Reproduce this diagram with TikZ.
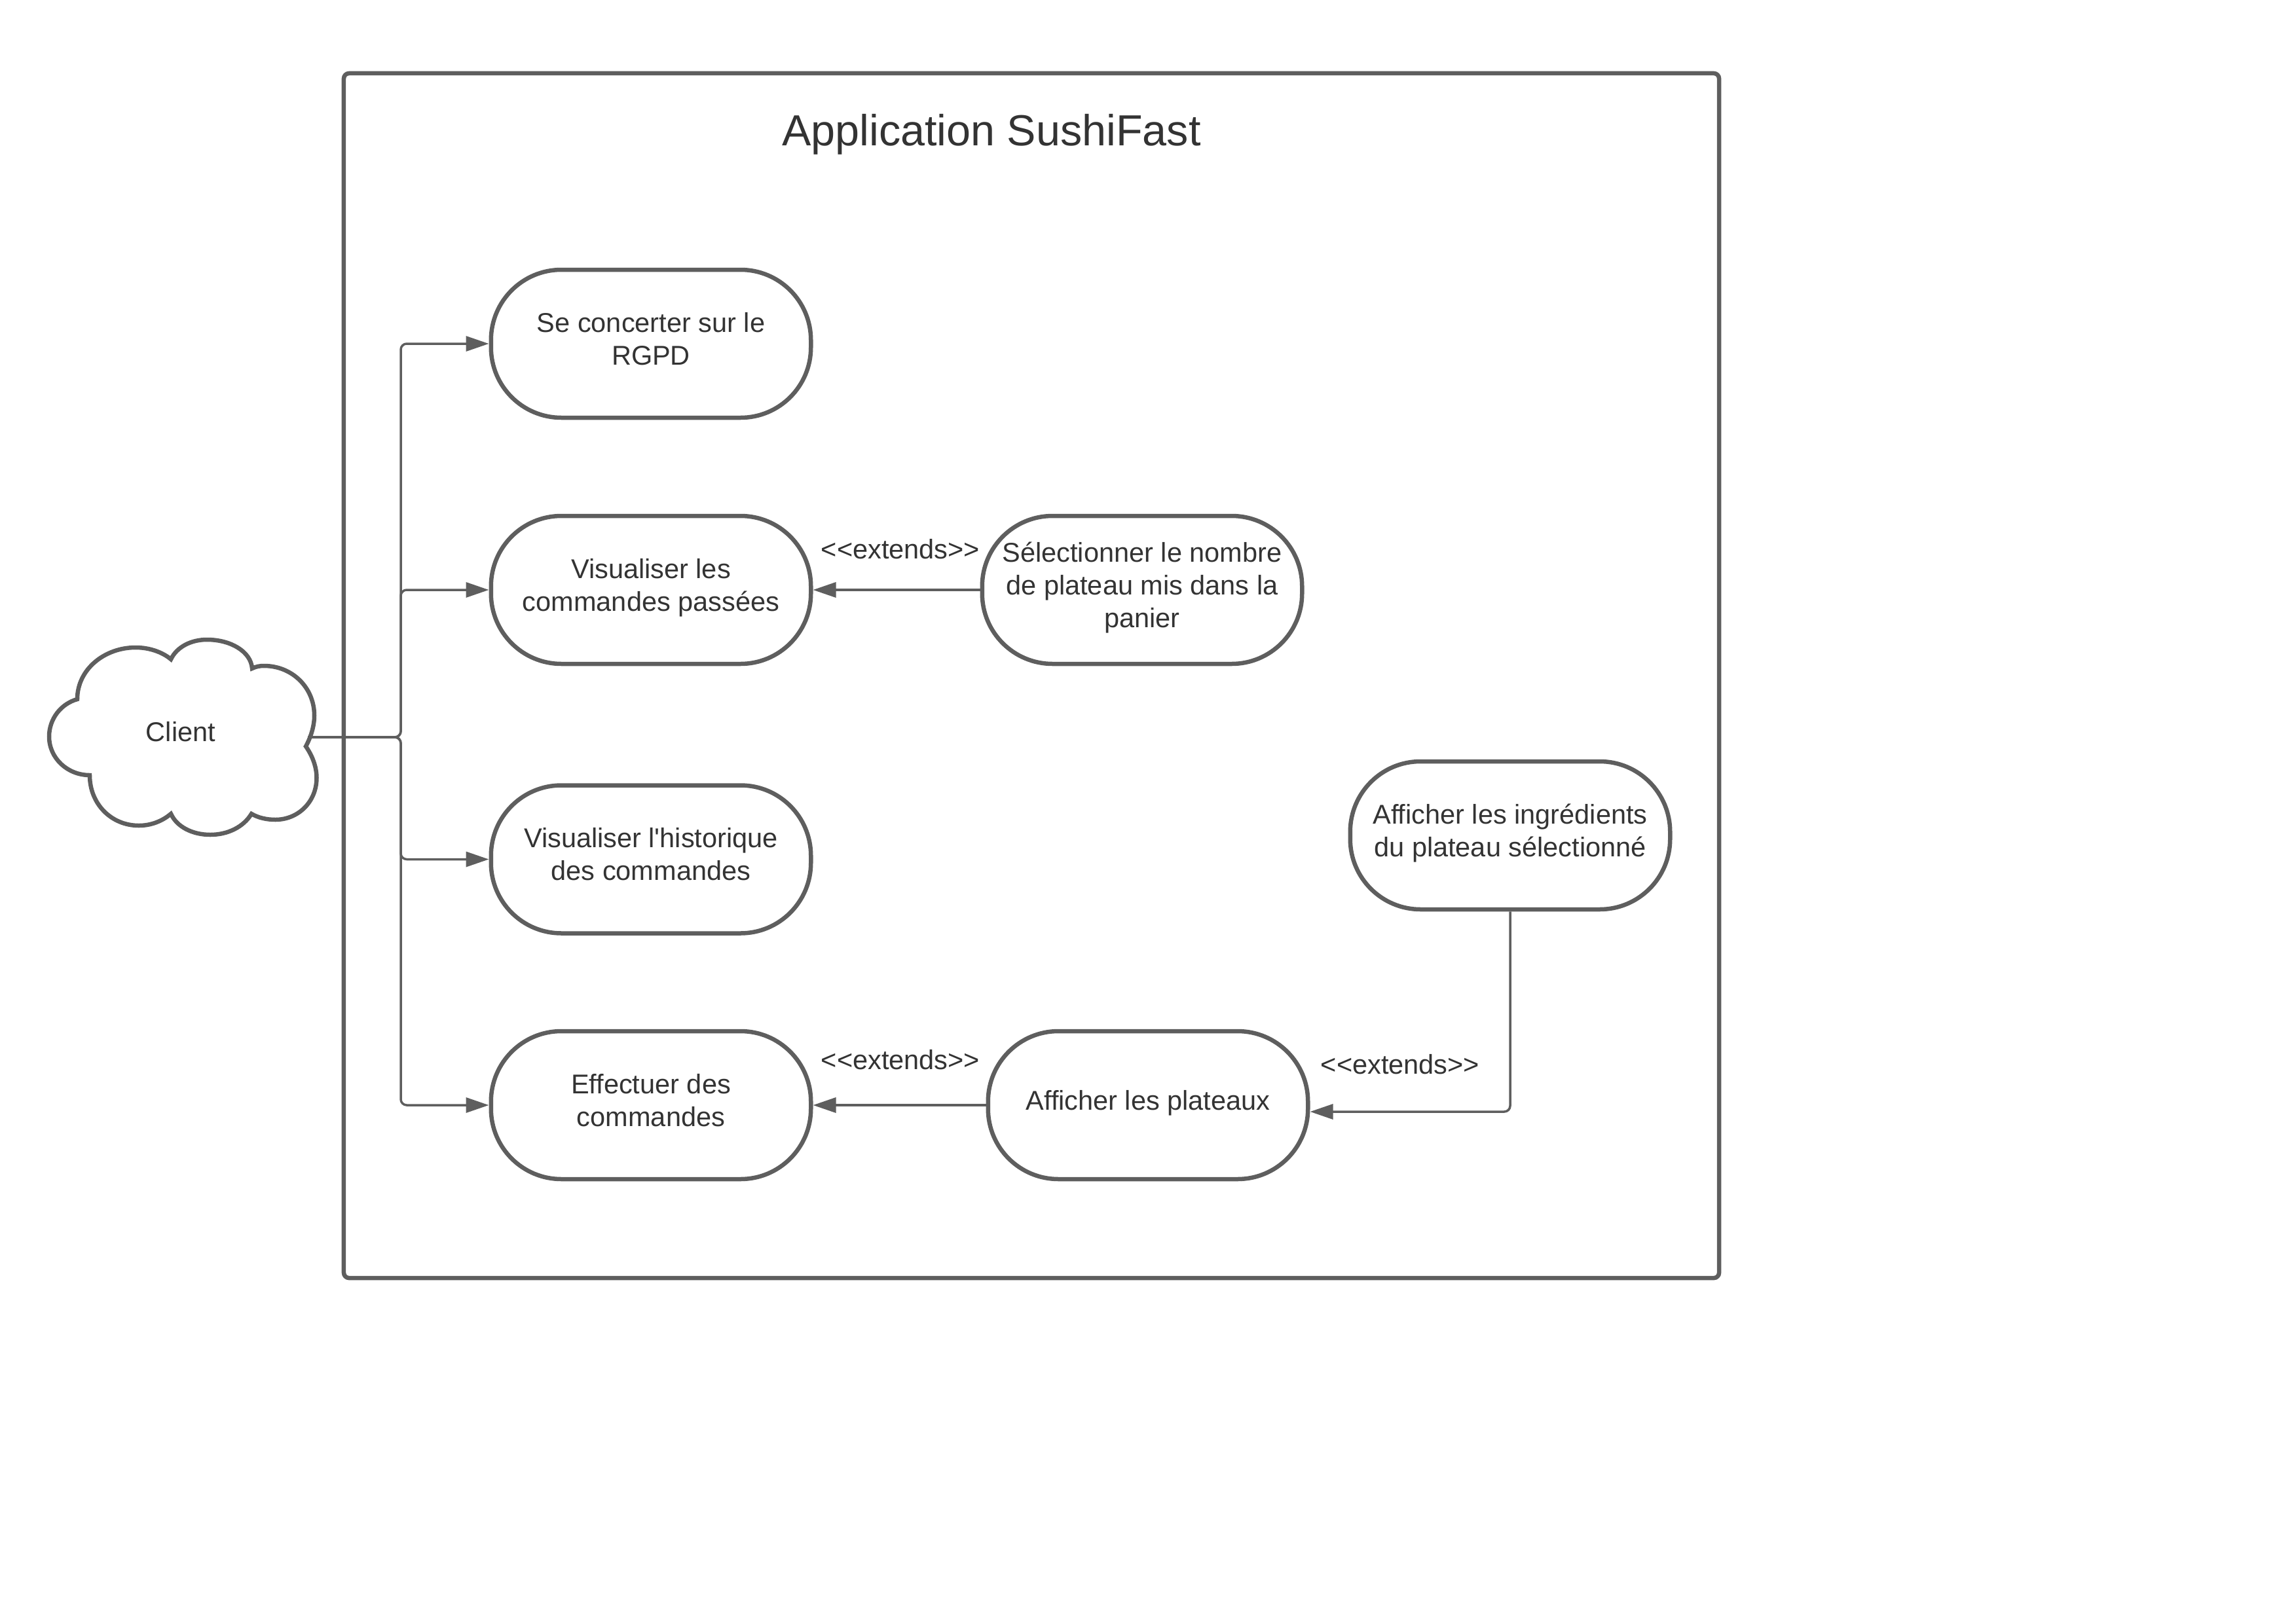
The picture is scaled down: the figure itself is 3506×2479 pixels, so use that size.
\documentclass[tikz,border=0pt]{standalone}
\usepackage{fontspec}
\setmainfont{Liberation Sans}
\usetikzlibrary{arrows.meta}
\definecolor{linegrey}{HTML}{5E5E5E}
\definecolor{textgrey}{HTML}{333333}
\newcommand{\pilltext}[1]{\begin{tabular}{@{}c@{}}#1\\[1.2pt]\end{tabular}}
\tikzset{
  basefont/.style={font=\fontsize{8.3}{10}\selectfont, text=textgrey},
  pill/.style={draw=linegrey, line width=1.3pt, fill=white, rounded corners=21.5pt,
    minimum width=97.7pt, minimum height=45.2pt, inner sep=0pt, basefont},
  framebox/.style={draw=linegrey, line width=1.3pt, rounded corners=1.6pt,
    minimum width=420pt, minimum height=368pt, inner sep=0pt},
  titletext/.style={font=\fontsize{13.3}{16}\selectfont, text=textgrey, inner sep=0pt},
  plaintext/.style={basefont, inner sep=0pt},
  conn/.style={draw=linegrey, line width=0.7pt, rounded corners=1.8pt,
    -{Triangle[length=7pt,width=4.6pt]}},
}
\begin{document}
\begin{tikzpicture}[x=0.2pt,y=-0.2pt]
\useasboundingbox (0,0) rectangle (3506,2479);
% system boundary
\node[framebox] (frame) at (1575,1032) {};
\node[titletext] (title) at (1514,205) {Application SushiFast};
% actor cloud
\draw[draw=linegrey, line width=1.3pt, fill=white]
  (118,1068) .. controls (118,1022) and (160,989) .. (207,989)
  .. controls (228,989) and (248,996) .. (261,1007)
  .. controls (270,988) and (292,977) .. (316,977)
  .. controls (352,977) and (383,995) .. (385,1021)
  .. controls (391,1018) and (397,1017) .. (403,1017)
  .. controls (446,1017) and (480,1050) .. (480,1093)
  .. controls (480,1110) and (474,1127) .. (467,1140)
  .. controls (476,1153) and (483.5,1170) .. (483.5,1188)
  .. controls (483.5,1225) and (455,1252) .. (420.5,1252)
  .. controls (407,1252) and (394,1249) .. (384,1243)
  .. controls (372,1263) and (348,1275) .. (321,1275)
  .. controls (294,1275) and (270,1263) .. (261,1243)
  .. controls (248,1254) and (231,1261) .. (212,1261)
  .. controls (170,1261) and (137,1228) .. (137,1184)
  .. controls (103,1184) and (75,1158) .. (75,1125)
  .. controls (75,1098) and (93,1075) .. (118,1068) -- cycle;
\node[plaintext] (client) at (276,1118) {Client};
\coordinate (cloudout) at (470,1126);
\coordinate (hub) at (612,1126);
% use cases
\node[pill] (rgpd) at (994,525) {\pilltext{Se concerter sur le\\RGPD}};
\node[pill] (passees) at (994,901) {\pilltext{Visualiser les\\commandes passées}};
\node[pill] (histo) at (994,1312.5) {\pilltext{Visualiser l\textquotesingle historique\\des commandes}};
\node[pill] (effect) at (994,1688) {\pilltext{Effectuer des\\commandes}};
\node[pill] (select) at (1744,901) {\pilltext{Sélectionner le nombre\\de plateau mis dans la\\panier}};
\node[pill] (ingred) at (2306,1276) {\pilltext{Afficher les ingrédients\\du plateau sélectionné}};
\node[pill] (plateaux) at (1753,1688) {\pilltext{Afficher les plateaux}};
% labels
\node[plaintext] (ext1) at (1375,839) {{<}{<}extends{>}{>}};
\node[plaintext] (ext2) at (1375,1619) {{<}{<}extends{>}{>}};
\node[plaintext] (ext3) at (2138,1626) {{<}{<}extends{>}{>}};
% connectors
\draw[conn] (cloudout) -- (hub) |- (rgpd.west);
\draw[conn] (cloudout) -- (hub) |- (passees.west);
\draw[conn] (cloudout) -- (hub) |- (histo.west);
\draw[conn] (cloudout) -- (hub) |- (effect.west);
\draw[conn] (select.west) -- (passees.east);
\draw[conn] (plateaux.west) -- (effect.east);
\draw[conn] (ingred.south) |- ([yshift=-2pt]plateaux.east);
\end{tikzpicture}
\end{document}
